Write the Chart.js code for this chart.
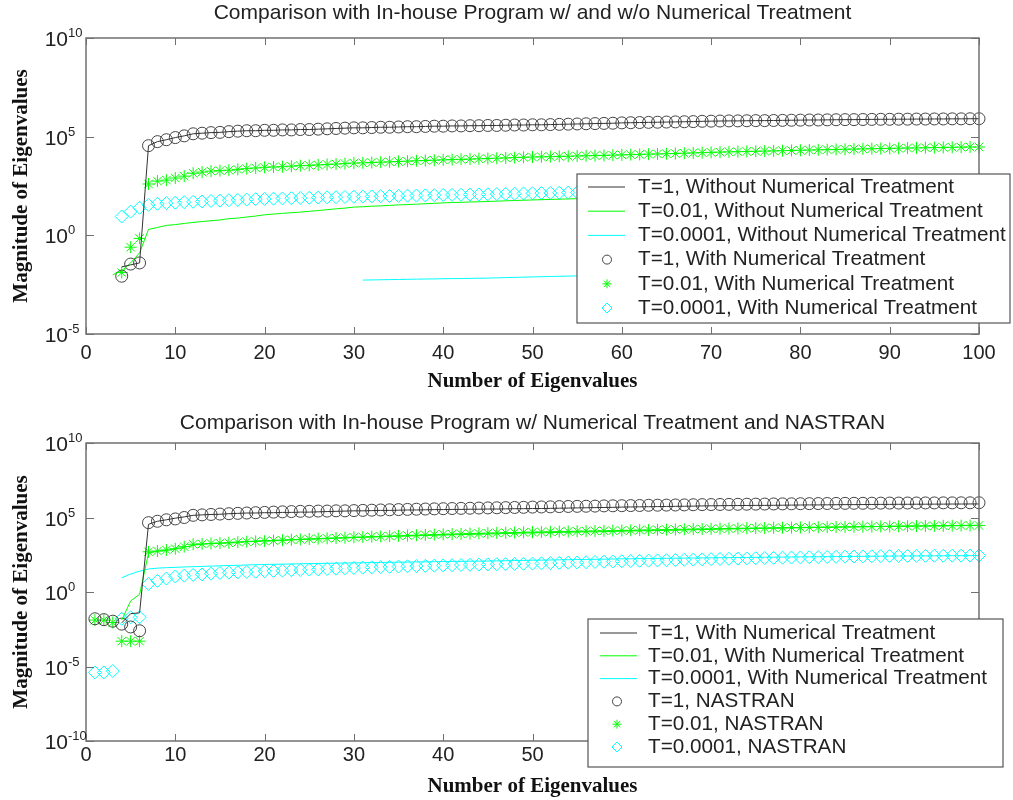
<!DOCTYPE html>
<html>
<head>
<meta charset="utf-8">
<script src="https://cdn.jsdelivr.net/npm/chart.js@4.4.1/dist/chart.umd.min.js"></script>
<style>
  body { margin: 0; background: #fff; }
  canvas { display: block; }
</style>
</head>
<body>
<canvas id="topChart" width="1013" height="400"></canvas>
<canvas id="bottomChart" width="1013" height="400"></canvas>
<script>
// eigenvalue magnitudes, first index of each series given separately

// in-house program, with numerical treatment (circles / stars / diamonds on top, lines on bottom)
const withNtT1Start = 4;
const withNtT1 = [8.5e-3, 3.5e-2, 4e-2, 3.5e4, 5.6e4, 7e4, 9e4,
  1.1e5, 1.4e5, 1.5e5, 1.6e5, 1.65e5, 1.8e5, 1.9e5, 2e5, 2e5, 2.1e5,
  2.1e5, 2.2e5, 2.2e5, 2.3e5, 2.3e5, 2.4e5, 2.5e5, 2.6e5, 2.7e5, 2.8e5,
  2.8e5, 2.9e5, 3e5, 3e5, 3.1e5, 3.2e5, 3.2e5, 3.3e5, 3.4e5, 3.4e5,
  3.5e5, 3.5e5, 3.6e5, 3.6e5, 3.7e5, 3.7e5, 3.8e5, 3.9e5, 3.9e5, 4e5,
  4e5, 4.1e5, 4.2e5, 4.3e5, 4.4e5, 4.5e5, 4.6e5, 4.7e5, 4.8e5, 5e5,
  5.1e5, 5.2e5, 5.3e5, 5.4e5, 5.5e5, 5.6e5, 5.7e5, 5.8e5, 6e5, 6.1e5,
  6.2e5, 6.3e5, 6.3e5, 6.4e5, 6.5e5, 6.5e5, 6.6e5, 6.7e5, 6.8e5, 6.9e5,
  7e5, 7e5, 7.1e5, 7.2e5, 7.3e5, 7.3e5, 7.4e5, 7.5e5, 7.6e5, 7.6e5,
  7.7e5, 7.7e5, 7.8e5, 7.8e5, 7.9e5, 7.9e5, 8e5, 8e5, 8.1e5, 8.1e5];

const withNtT001Start = 4;
const withNtT001 = [1.3e-2, 0.25, 0.7, 400, 560, 630, 800,
  1000, 1400, 1600, 1800, 1900, 2000, 2200, 2400, 2600, 2800,
  2900, 3000, 3200, 3400, 3500, 3700, 3900, 4100, 4300, 4600,
  4700, 4900, 5100, 5300, 5500, 5700, 6000, 6200, 6400, 6700,
  6900, 7100, 7300, 7600, 7800, 8100, 8400, 8700, 9000, 9300,
  9500, 9700, 1e4, 1.02e4, 1.05e4, 1.08e4, 1.1e4, 1.13e4, 1.16e4, 1.2e4,
  1.23e4, 1.26e4, 1.3e4, 1.33e4, 1.37e4, 1.4e4, 1.45e4, 1.5e4, 1.55e4, 1.6e4,
  1.65e4, 1.7e4, 1.74e4, 1.78e4, 1.82e4, 1.86e4, 1.9e4, 1.95e4, 2e4, 2.05e4,
  2.1e4, 2.15e4, 2.2e4, 2.25e4, 2.3e4, 2.35e4, 2.4e4, 2.45e4, 2.5e4, 2.55e4,
  2.6e4, 2.65e4, 2.7e4, 2.75e4, 2.8e4, 2.85e4, 2.9e4, 2.95e4, 3e4, 3e4];

const withNtT00001Start = 4;
const withNtT00001 = [9, 16, 25, 35, 40, 43, 45,
  48, 50, 52, 55, 57, 60, 62, 65, 68, 70,
  72, 74, 76, 78, 80, 82, 84, 86, 88, 90,
  92, 94, 96, 98, 100, 102, 104, 106, 108, 110,
  112, 114, 116, 118, 120, 123, 126, 129, 132, 135,
  138, 141, 144, 147, 150, 153, 156, 160, 164, 168,
  170, 173, 176, 179, 182, 185, 188, 191, 194, 197,
  200, 203, 206, 209, 212, 215, 218, 221, 224, 227,
  230, 233, 236, 239, 242, 245, 248, 251, 254, 257,
  260, 262, 264, 266, 268, 270, 272, 274, 276, 278];

// in-house program, without numerical treatment (lines on top)
const withoutNtT1Start = 4;
const withoutNtT1 = [2.5e-2, 3.2e-2, 4e-2, 3.5e4, 5.6e4, 7e4, 9e4,
  1.1e5, 1.4e5, 1.5e5, 1.6e5, 1.65e5, 1.8e5, 1.9e5, 2e5, 2e5, 2.1e5,
  2.1e5, 2.2e5, 2.2e5, 2.3e5, 2.3e5, 2.4e5, 2.5e5, 2.6e5, 2.7e5, 2.8e5,
  2.8e5, 2.9e5, 3e5, 3e5, 3.1e5, 3.2e5, 3.2e5, 3.3e5, 3.4e5, 3.4e5,
  3.5e5, 3.5e5, 3.6e5, 3.6e5, 3.7e5, 3.7e5, 3.8e5, 3.9e5, 3.9e5, 4e5,
  4e5, 4.1e5, 4.2e5, 4.3e5, 4.4e5, 4.5e5, 4.6e5, 4.7e5, 4.8e5, 5e5,
  5.1e5, 5.2e5, 5.3e5, 5.4e5, 5.5e5, 5.6e5, 5.7e5, 5.8e5, 6e5, 6.1e5,
  6.2e5, 6.3e5, 6.3e5, 6.4e5, 6.5e5, 6.5e5, 6.6e5, 6.7e5, 6.8e5, 6.9e5,
  7e5, 7e5, 7.1e5, 7.2e5, 7.3e5, 7.3e5, 7.4e5, 7.5e5, 7.6e5, 7.6e5,
  7.7e5, 7.7e5, 7.8e5, 7.8e5, 7.9e5, 7.9e5, 8e5, 8e5, 8.1e5, 8.1e5];

const withoutNtT001Start = 3;
const withoutNtT001 = [1e-2, 1.6e-2, 4e-2, 0.13, 2, 2.5, 3.2, 3.5,
  4, 4.5, 5, 5.5, 6, 7, 7.5, 8.5, 9.5, 11,
  12, 13, 14, 15, 16.5, 18, 20, 22, 24, 27,
  28, 30, 31, 33, 35, 36, 38, 40, 42, 44,
  46, 47, 49, 50, 52, 54, 56, 58, 60, 62,
  64, 66, 68, 70, 72, 73, 74, 76, 78, 80,
  82, 84, 86, 88, 90, 92, 94, 96, 98, 100,
  103, 106, 109, 112, 115, 118, 121, 124, 127, 130,
  133, 136, 139, 142, 145, 148, 151, 154, 157, 160,
  162, 164, 166, 168, 170, 172, 174, 176, 178, 180];

const withoutNtT00001Start = 31;
const withoutNtT00001 = [5.4e-3, 5.5e-3, 5.6e-3, 5.7e-3, 5.8e-3, 5.9e-3, 6e-3, 6.1e-3, 6.2e-3, 6.3e-3,
  6.4e-3, 6.5e-3, 6.6e-3, 6.7e-3, 6.8e-3, 7e-3, 7.2e-3, 7.4e-3, 7.6e-3, 7.8e-3,
  8e-3, 8.2e-3, 8.4e-3, 8.6e-3, 8.8e-3, 9e-3, 9.2e-3, 9.4e-3, 9.6e-3, 9.8e-3,
  1e-2, 1.02e-2, 1.04e-2, 1.06e-2, 1.08e-2, 1.1e-2, 1.12e-2, 1.14e-2, 1.16e-2, 1.18e-2,
  1.2e-2, 1.22e-2, 1.24e-2, 1.26e-2, 1.28e-2, 1.3e-2, 1.32e-2, 1.34e-2, 1.36e-2, 1.38e-2,
  1.4e-2, 1.42e-2, 1.44e-2, 1.46e-2, 1.48e-2, 1.5e-2, 1.52e-2, 1.54e-2, 1.56e-2, 1.58e-2,
  1.6e-2, 1.62e-2, 1.64e-2, 1.66e-2, 1.68e-2, 1.7e-2, 1.72e-2, 1.74e-2, 1.76e-2, 1.78e-2];

// NASTRAN (markers on bottom)
const nastranT1Start = 1;
const nastranT1 = [1.6e-2, 1.4e-2, 1.1e-2, 7e-3, 4.5e-3, 2.5e-3, 4.5e4, 5.6e4, 7e4, 8e4,
  1e5, 1.4e5, 1.5e5, 1.6e5, 1.7e5, 1.8e5, 1.9e5, 2e5, 2.1e5, 2.2e5,
  2.3e5, 2.4e5, 2.5e5, 2.6e5, 2.6e5, 2.7e5, 2.7e5, 2.8e5, 2.8e5, 2.9e5,
  3e5, 3.1e5, 3.2e5, 3.3e5, 3.4e5, 3.5e5, 3.6e5, 3.7e5, 3.8e5, 3.9e5,
  4e5, 4.1e5, 4.2e5, 4.3e5, 4.4e5, 4.5e5, 4.6e5, 4.7e5, 4.8e5, 5e5,
  5.1e5, 5.2e5, 5.4e5, 5.5e5, 5.6e5, 5.7e5, 5.8e5, 6e5, 6.1e5, 6.2e5,
  6.3e5, 6.4e5, 6.6e5, 6.7e5, 6.8e5, 6.9e5, 7e5, 7.2e5, 7.3e5, 7.4e5,
  7.5e5, 7.6e5, 7.7e5, 7.8e5, 7.9e5, 8e5, 8.1e5, 8.2e5, 8.3e5, 8.4e5,
  8.5e5, 8.6e5, 8.7e5, 8.8e5, 8.9e5, 9e5, 9e5, 9.1e5, 9.2e5, 9.3e5,
  9.3e5, 9.4e5, 9.4e5, 9.5e5, 9.5e5, 9.6e5, 9.6e5, 9.7e5, 9.7e5, 9.8e5];

const nastranT001Start = 1;
const nastranT001 = [1.3e-2, 1.3e-2, 9e-3, 5e-4, 5e-4, 5e-4, 500, 560, 660, 800,
  1100, 1600, 1700, 1800, 1900, 2000, 2200, 2400, 2500, 2600,
  2800, 3000, 3200, 3400, 3600, 3800, 4000, 4200, 4400, 4700,
  4900, 5200, 5400, 5700, 5900, 6200, 6500, 6800, 7100, 7400,
  7700, 8000, 8300, 8600, 8900, 9200, 9500, 9800, 1.01e4, 1.04e4,
  1.07e4, 1.1e4, 1.13e4, 1.16e4, 1.19e4, 1.22e4, 1.25e4, 1.28e4, 1.31e4, 1.35e4,
  1.38e4, 1.42e4, 1.46e4, 1.5e4, 1.54e4, 1.58e4, 1.62e4, 1.66e4, 1.7e4, 1.74e4,
  1.78e4, 1.82e4, 1.86e4, 1.9e4, 1.94e4, 1.98e4, 2.02e4, 2.06e4, 2.1e4, 2.14e4,
  2.18e4, 2.22e4, 2.26e4, 2.3e4, 2.34e4, 2.38e4, 2.42e4, 2.46e4, 2.5e4, 2.54e4,
  2.58e4, 2.62e4, 2.66e4, 2.7e4, 2.74e4, 2.78e4, 2.82e4, 2.86e4, 2.9e4, 2.94e4];

const nastranT00001Start = 1;
const nastranT00001 = [4e-6, 4e-6, 5e-6, 1.6e-2, 2e-2, 2e-2, 3.5, 5.6, 8, 11,
  12.5, 14, 15, 17, 19, 20, 21, 22, 23, 25,
  26, 27, 29, 30, 32, 33, 35, 37, 39, 41,
  43, 45, 47, 49, 51, 53, 55, 57, 59, 61,
  63, 65, 67, 69, 71, 73, 75, 77, 79, 81,
  84, 87, 90, 93, 96, 100, 104, 108, 112, 116,
  120, 124, 128, 132, 136, 140, 145, 150, 155, 160,
  165, 170, 175, 180, 185, 190, 195, 200, 205, 210,
  215, 220, 225, 230, 235, 240, 245, 250, 255, 260,
  262, 264, 266, 268, 270, 272, 274, 276, 278, 280];

// axis ticks
const xTicks = [0, 10, 20, 30, 40, 50, 60, 70, 80, 90, 100];
const topYTicks = [1e-5, 1, 1e5, 1e10];
const topYExp = ['-5', '0', '5', '10'];
const bottomYTicks = [1e-10, 1e-5, 1, 1e5, 1e10];
const bottomYExp = ['-10', '-5', '0', '5', '10'];

const BLACK = '#333333';
const GREEN = '#00ff00';
const CYAN = '#00ffff';
const SANS = '"Liberation Sans", Arial, sans-serif';
const SERIF = '"Liberation Serif", "Times New Roman", serif';

const pts = (start, values) => values.map((v, i) => ({ x: start + i, y: v }));

const lineSet = (label, color, data) => ({
  label, data, borderColor: color, borderWidth: 1,
  pointRadius: 0, showLine: true, fill: false, clip: false
});

const markSet = (label, color, style, radius, data) => ({
  label, data, showLine: false, borderColor: color,
  pointStyle: style, pointRadius: radius, pointBorderColor: color,
  pointBackgroundColor: 'rgba(0,0,0,0)', pointBorderWidth: 1, clip: false
});

// MATLAB style box with inward ticks, superscript y labels, title and boxed legend
const matlabFrame = {
  id: 'matlabFrame',
  afterDatasetsDraw(chart, args, opts) {
    const { ctx, chartArea: a, scales: { x, y } } = chart;
    ctx.save();
    ctx.strokeStyle = '#707070';
    ctx.lineWidth = 1.5;
    ctx.strokeRect(a.left, a.top, a.right - a.left, a.bottom - a.top);
    ctx.lineWidth = 1;
    ctx.beginPath();
    x.ticks.forEach(t => {
      const px = Math.round(x.getPixelForValue(t.value)) + 0.5;
      ctx.moveTo(px, a.bottom); ctx.lineTo(px, a.bottom - 7);
      ctx.moveTo(px, a.top); ctx.lineTo(px, a.top + 7);
    });
    y.ticks.forEach(t => {
      const py = Math.round(y.getPixelForValue(t.value)) + 0.5;
      ctx.moveTo(a.left, py); ctx.lineTo(a.left + 8, py);
      ctx.moveTo(a.right, py); ctx.lineTo(a.right - 8, py);
    });
    ctx.stroke();

    ctx.fillStyle = '#222';
    ctx.textBaseline = 'alphabetic';
    y.ticks.forEach((t, i) => {
      const py = y.getPixelForValue(t.value);
      ctx.font = '21px ' + SANS;
      ctx.textAlign = 'right';
      ctx.fillText('10', 68, py + 8);
      ctx.font = '13px ' + SANS;
      ctx.textAlign = 'left';
      ctx.fillText(opts.exponents[i], 68, py - 1);
    });

    // title centred over the axes box
    ctx.font = '21px ' + SANS;
    ctx.textAlign = 'center';
    ctx.textBaseline = 'middle';
    ctx.fillText(opts.title, (a.left + a.right) / 2, opts.titleY);
    ctx.restore();
  },
  afterDraw(chart, args, opts) {
    const { ctx } = chart;
    const L = opts.legend;
    ctx.save();
    ctx.fillStyle = '#fff';
    ctx.fillRect(L.box[0], L.box[1], L.box[2] - L.box[0], L.box[3] - L.box[1]);
    ctx.strokeStyle = '#555';
    ctx.lineWidth = 1.2;
    ctx.strokeRect(L.box[0], L.box[1], L.box[2] - L.box[0], L.box[3] - L.box[1]);
    chart.data.datasets.forEach((ds, i) => {
      const ry = L.firstRow + i * L.rowStep;
      if (ds.showLine) {
        ctx.strokeStyle = ds.borderColor;
        ctx.lineWidth = 1;
        ctx.beginPath();
        ctx.moveTo(L.lineX[0], ry); ctx.lineTo(L.lineX[1], ry);
        ctx.stroke();
      } else {
        ctx.strokeStyle = ds.pointBorderColor;
        ctx.fillStyle = 'rgba(0,0,0,0)';
        ctx.lineWidth = 1;
        Chart.helpers.drawPoint(ctx, { pointStyle: ds.pointStyle, radius: ds.pointRadius - 1.5, borderWidth: 1, rotation: 0 }, L.markX, ry);
      }
      ctx.fillStyle = '#222';
      ctx.font = '20.7px ' + SANS;
      ctx.textAlign = 'left';
      ctx.textBaseline = 'middle';
      ctx.fillText(ds.label, L.textX, ry);
    });
    ctx.restore();
  }
};

const buildChart = (canvas, c) => new Chart(canvas, {
  type: 'line',
  data: { datasets: c.datasets },
  plugins: [matlabFrame],
  options: {
    responsive: false,
    animation: false,
    layout: { padding: { left: 0, right: 34, top: c.topPad, bottom: 0 } },
    plugins: {
      legend: { display: false },
      tooltip: { enabled: false },
      title: { display: false },
      matlabFrame: { exponents: c.yExp, legend: c.legend, title: c.title, titleY: c.titleY }
    },
    scales: {
      x: {
        type: 'linear', min: 0, max: 100,
        afterBuildTicks: s => { s.ticks = xTicks.map(v => ({ value: v })); },
        afterFit: s => { s.height = c.xHeight; },
        grid: { display: false, drawTicks: false },
        border: { display: false },
        ticks: { color: '#222', font: { family: SANS, size: 20 }, padding: c.xTickPad, maxRotation: 0 },
        title: {
          display: true, text: 'Number of Eigenvalues', color: '#111',
          font: { family: SERIF, size: 21, weight: 'bold' },
          padding: { top: 0, bottom: c.xTitlePad }
        }
      },
      y: {
        type: 'logarithmic', min: c.yTicks[0], max: c.yTicks[c.yTicks.length - 1],
        afterBuildTicks: s => { s.ticks = c.yTicks.map(v => ({ value: v })); },
        afterFit: s => { s.width = 86; },
        grid: { display: false, drawTicks: false },
        border: { display: false },
        ticks: { display: false },
        title: {
          display: true, text: 'Magnitude of Eigenvalues', color: '#111',
          font: { family: SERIF, size: 21, weight: 'bold' },
          padding: { top: 9, bottom: 0 }
        }
      }
    }
  }
});

buildChart(document.getElementById('topChart'), {
  title: 'Comparison with In-house Program w/ and w/o Numerical Treatment',
  topPad: 38, titleY: 13,
  xHeight: 66, xTickPad: 7, xTitlePad: 6,
  yTicks: topYTicks, yExp: topYExp,
  legend: { box: [577, 174, 1010, 323], firstRow: 187, rowStep: 24.2, lineX: [588, 625], markX: 607, textX: 638 },
  datasets: [
    lineSet('T=1, Without Numerical Treatment', BLACK, pts(withoutNtT1Start, withoutNtT1)),
    lineSet('T=0.01, Without Numerical Treatment', GREEN, pts(withoutNtT001Start, withoutNtT001)),
    lineSet('T=0.0001, Without Numerical Treatment', CYAN, pts(withoutNtT00001Start, withoutNtT00001)),
    markSet('T=1, With Numerical Treatment', '#444', 'circle', 6, pts(withNtT1Start, withNtT1)),
    markSet('T=0.01, With Numerical Treatment', GREEN, 'star', 6, pts(withNtT001Start, withNtT001)),
    markSet('T=0.0001, With Numerical Treatment', CYAN, 'rectRot', 6.5, pts(withNtT00001Start, withNtT00001))
  ]
});

buildChart(document.getElementById('bottomChart'), {
  title: 'Comparison with In-house Program w/ Numerical Treatment and NASTRAN',
  topPad: 43, titleY: 23,
  xHeight: 59, xTickPad: 2, xTitlePad: 1,
  yTicks: bottomYTicks, yExp: bottomYExp,
  legend: { box: [588, 219, 1003, 367], firstRow: 233, rowStep: 22.8, lineX: [600, 637], markX: 617, textX: 648 },
  datasets: [
    lineSet('T=1, With Numerical Treatment', BLACK, pts(withNtT1Start, withNtT1)),
    lineSet('T=0.01, With Numerical Treatment', GREEN, pts(withNtT001Start, withNtT001)),
    lineSet('T=0.0001, With Numerical Treatment', CYAN, pts(withNtT00001Start, withNtT00001)),
    markSet('T=1, NASTRAN', '#444', 'circle', 6, pts(nastranT1Start, nastranT1)),
    markSet('T=0.01, NASTRAN', GREEN, 'star', 6, pts(nastranT001Start, nastranT001)),
    markSet('T=0.0001, NASTRAN', CYAN, 'rectRot', 6.5, pts(nastranT00001Start, nastranT00001))
  ]
});
</script>
</body>
</html>
